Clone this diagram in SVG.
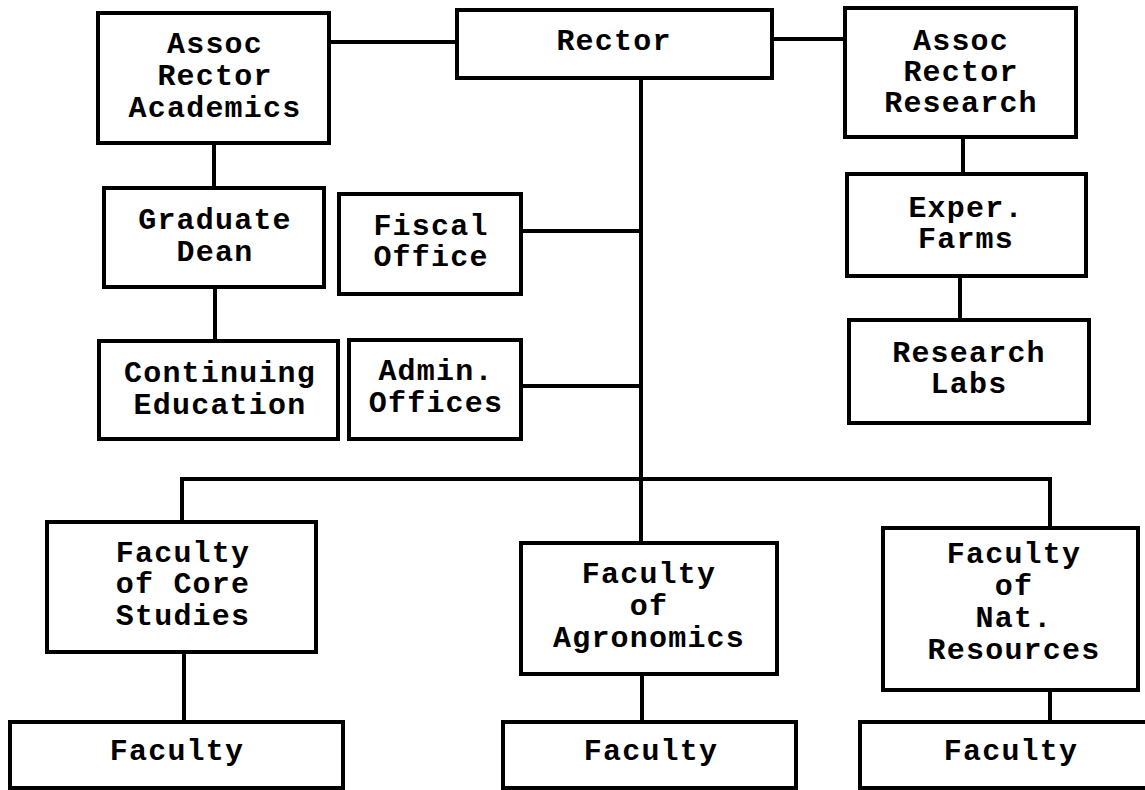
<svg xmlns="http://www.w3.org/2000/svg" width="1145" height="790" viewBox="0 0 1145 790">
<style>
.box{fill:#fff;stroke:#000;stroke-width:4}
.lbl{font-family:"Liberation Mono","DejaVu Sans Mono",monospace;font-weight:bold;font-size:30px;letter-spacing:1.2px;fill:#000;text-anchor:middle}
.con{stroke:#000;stroke-width:4;fill:none}
</style>
<rect width="1145" height="790" fill="#fff"/>
<g id="connectors">
<line class="con" x1="329" y1="42" x2="457" y2="42"/>
<line class="con" x1="772" y1="39" x2="845" y2="39"/>
<line class="con" x1="641" y1="78" x2="641" y2="543"/>
<line class="con" x1="521" y1="231" x2="641" y2="231"/>
<line class="con" x1="521" y1="386" x2="641" y2="386"/>
<polyline class="con" points="182,522 182,479 1050,479 1050,528"/>
<line class="con" x1="214" y1="143" x2="214" y2="188"/>
<line class="con" x1="215" y1="287" x2="215" y2="341"/>
<line class="con" x1="963" y1="137" x2="963" y2="174"/>
<line class="con" x1="960" y1="276" x2="960" y2="320"/>
<line class="con" x1="184" y1="652" x2="184" y2="722"/>
<line class="con" x1="642" y1="674" x2="642" y2="722"/>
<line class="con" x1="1050" y1="690" x2="1050" y2="722"/>
</g>
<g id="academics"><rect class="box" x="98" y="13" width="231" height="130"/>
<text class="lbl" x="215" y="53">Assoc</text><text class="lbl" x="215" y="85">Rector</text><text class="lbl" x="215" y="117">Academics</text></g>
<g id="rector"><rect class="box" x="457" y="10" width="315" height="68"/>
<text class="lbl" x="614" y="50">Rector</text></g>
<g id="research"><rect class="box" x="845" y="8" width="231" height="129"/>
<text class="lbl" x="961" y="50">Assoc</text><text class="lbl" x="961" y="81">Rector</text><text class="lbl" x="961" y="112">Research</text></g>
<g id="graduate"><rect class="box" x="104" y="188" width="220" height="99"/>
<text class="lbl" x="215" y="229">Graduate</text><text class="lbl" x="215" y="261">Dean</text></g>
<g id="fiscal"><rect class="box" x="339" y="194" width="182" height="100"/>
<text class="lbl" x="431" y="235">Fiscal</text><text class="lbl" x="431" y="266">Office</text></g>
<g id="exper"><rect class="box" x="847" y="174" width="239" height="102"/>
<text class="lbl" x="966" y="217">Exper.</text><text class="lbl" x="966" y="248">Farms</text></g>
<g id="continuing"><rect class="box" x="99" y="341" width="239" height="98"/>
<text class="lbl" x="220" y="382">Continuing</text><text class="lbl" x="220" y="414">Education</text></g>
<g id="admin"><rect class="box" x="349" y="340" width="172" height="99"/>
<text class="lbl" x="436" y="380">Admin.</text><text class="lbl" x="436" y="412">Offices</text></g>
<g id="labs"><rect class="box" x="849" y="320" width="240" height="103"/>
<text class="lbl" x="969" y="362">Research</text><text class="lbl" x="969" y="393">Labs</text></g>
<g id="core"><rect class="box" x="47" y="522" width="269" height="130"/>
<text class="lbl" x="183" y="562">Faculty</text><text class="lbl" x="183" y="593">of Core</text><text class="lbl" x="183" y="625">Studies</text></g>
<g id="agronomics"><rect class="box" x="521" y="543" width="256" height="131"/>
<text class="lbl" x="649" y="583">Faculty</text><text class="lbl" x="649" y="615">of</text><text class="lbl" x="649" y="647">Agronomics</text></g>
<g id="natres"><rect class="box" x="883" y="528" width="255" height="162"/>
<text class="lbl" x="1014" y="563">Faculty</text><text class="lbl" x="1014" y="595">of</text><text class="lbl" x="1014" y="627">Nat.</text><text class="lbl" x="1014" y="659">Resources</text></g>
<g id="faculty1"><rect class="box" x="10" y="722" width="333" height="66"/>
<text class="lbl" x="177" y="760">Faculty</text></g>
<g id="faculty2"><rect class="box" x="503" y="722" width="293" height="66"/>
<text class="lbl" x="651" y="760">Faculty</text></g>
<g id="faculty3"><rect class="box" x="860" y="722" width="300" height="66"/>
<text class="lbl" x="1011" y="760">Faculty</text></g>
</svg>
